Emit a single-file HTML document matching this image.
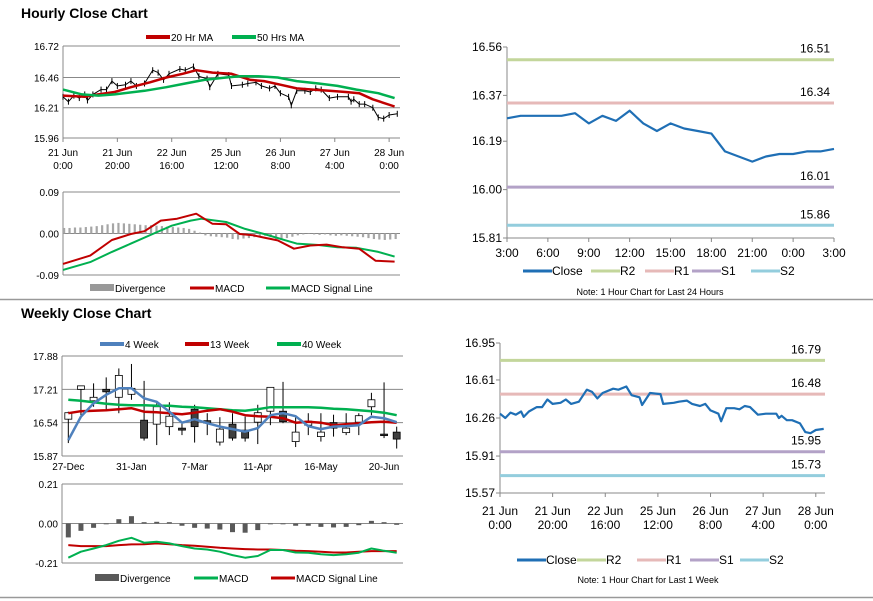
<!DOCTYPE html>
<html><head><meta charset="utf-8"><style>
html,body{margin:0;padding:0;background:#fff;}
svg{display:block;font-family:"Liberation Sans",Arial,sans-serif;}
</style></head><body>
<svg id="c" width="873" height="601" viewBox="0 0 873 601" xmlns="http://www.w3.org/2000/svg"></svg>
<script>
// ---------- DATA ----------
const weekHours = [0,2,4,6,8,9,11,14,16,18,20,23,25,27,30,33,35,37,39,43,45,48,50,53,54,57,61,62,66,68,71,73,76,78,80,83,84,86,89,91,93,95,98,101,105,106,107,109,111,114,116,118,120,123];
const weekClose = [16.30,16.26,16.31,16.29,16.32,16.27,16.32,16.36,16.36,16.43,16.39,16.40,16.43,16.39,16.41,16.52,16.50,16.44,16.49,16.53,16.52,16.55,16.47,16.45,16.38,16.49,16.48,16.39,16.40,16.41,16.42,16.39,16.37,16.39,16.33,16.30,16.23,16.35,16.35,16.34,16.37,16.36,16.29,16.30,16.30,16.26,16.28,16.24,16.24,16.21,16.13,16.12,16.15,16.16];
const ma20Hours = [0,8,13,19,25,32,38,44,49,55,62,69,74,80,86,92,98,104,109,114,122];
const ma20 = [16.31,16.30,16.32,16.34,16.38,16.42,16.46,16.49,16.52,16.50,16.49,16.44,16.43,16.40,16.37,16.36,16.35,16.34,16.33,16.28,16.22];
const ma50Hours = [0,7,13,19,30,38,45,52,60,65,72,79,86,94,101,108,116,122];
const ma50 = [16.36,16.32,16.31,16.32,16.35,16.38,16.41,16.44,16.46,16.47,16.47,16.46,16.43,16.41,16.39,16.36,16.33,16.29];
const hMacdHours = [0,10,18,25,30,36,42,49,55,60,65,70,74,79,85,91,97,103,109,115,122];
const hMacd = [-0.066,-0.048,-0.014,-0.001,0.005,0.028,0.032,0.043,0.021,0.020,-0.001,-0.004,-0.009,-0.015,-0.033,-0.026,-0.024,-0.030,-0.033,-0.059,-0.061];
const hSigHours = [0,10,18,25,33,40,47,51,60,67,74,82,86,94,101,108,116,122];
const hSig = [-0.079,-0.062,-0.040,-0.022,-0.001,0.017,0.028,0.032,0.025,0.010,-0.001,-0.015,-0.022,-0.025,-0.030,-0.031,-0.040,-0.050];
const hDiv = [0.012,0.012,0.013,0.013,0.014,0.015,0.016,0.018,0.020,0.022,0.023,0.022,0.021,0.020,0.019,0.018,0.018,0.017,0.016,0.015,0.014,0.013,0.012,0.010,0.006,0.002,-0.004,-0.006,-0.007,-0.008,-0.009,-0.012,-0.013,-0.011,-0.010,-0.008,-0.006,-0.005,-0.008,-0.012,-0.014,-0.010,-0.007,-0.004,-0.002,-0.001,-0.002,-0.003,-0.002,-0.004,-0.005,-0.004,-0.005,-0.006,-0.007,-0.008,-0.010,-0.012,-0.013,-0.014,-0.013,-0.012];
const hourTickLabels = [["21 Jun","0:00"],["21 Jun","20:00"],["22 Jun","16:00"],["25 Jun","12:00"],["26 Jun","8:00"],["27 Jun","4:00"],["28 Jun","0:00"]];
const hourTickHours = [0,20,40,60,80,100,120];
const hPriceTicks = [16.72,16.46,16.21,15.96];
const hMacdTicks = [0.09,0.00,-0.09];

const dayLabels = ["3:00","6:00","9:00","12:00","15:00","18:00","21:00","0:00","3:00"];
const dayClose = [16.28,16.29,16.29,16.29,16.29,16.30,16.26,16.29,16.27,16.31,16.26,16.23,16.26,16.24,16.23,16.22,16.15,16.13,16.11,16.13,16.14,16.14,16.15,16.15,16.16];
const dayTicks = [16.56,16.37,16.19,16.00,15.81];
const dayLevels = [16.51,16.34,16.01,15.86];
const wkLevels = [16.79,16.48,15.95,15.73];
const wkTicksR = [16.95,16.61,16.26,15.91,15.57];

const wOpen  = [16.61,17.21,16.98,17.21,17.05,17.11,16.59,16.51,16.46,16.43,16.81,16.58,16.15,16.51,16.39,16.55,16.77,16.77,16.16,16.49,16.26,16.54,16.34,16.55,16.86,16.31,16.35];
const wHigh  = [16.76,17.28,17.33,17.45,17.63,17.72,17.38,16.93,16.95,16.54,16.90,16.73,16.65,16.73,16.66,16.90,17.25,17.36,16.65,16.73,16.73,16.70,16.73,16.73,17.14,17.35,16.46];
const wLow   = [16.13,16.69,16.86,16.79,16.73,17.00,16.18,16.09,16.29,16.29,16.14,16.29,16.08,16.18,16.16,16.11,16.49,16.53,16.05,16.29,16.16,16.26,16.29,16.29,16.69,16.23,16.02];
const wClose = [16.74,17.28,17.05,17.16,17.49,17.23,16.23,16.86,16.67,16.39,16.46,16.53,16.41,16.23,16.23,16.74,17.25,16.56,16.35,16.57,16.35,16.43,16.43,16.68,17.00,16.29,16.21];
const w4  = [16.19,16.66,16.93,17.10,17.23,17.23,17.03,16.96,16.76,16.54,16.61,16.53,16.46,16.41,16.36,16.43,16.69,16.73,16.67,16.47,16.41,16.46,16.47,16.49,16.66,16.63,16.55];
const w13 = [16.73,16.77,16.78,16.79,16.81,16.83,16.76,16.75,16.73,16.71,16.74,16.78,16.81,16.76,16.69,16.67,16.66,16.63,16.54,16.56,16.54,16.49,16.51,16.53,16.55,16.56,16.54];
const w40 = [17.00,16.98,16.95,16.92,16.90,16.89,16.89,16.88,16.88,16.86,16.85,16.83,16.81,16.79,16.78,16.81,16.85,16.85,16.85,16.85,16.84,16.82,16.81,16.79,16.77,16.74,16.69];
const wDiv = [-0.074,-0.039,-0.023,-0.004,0.023,0.039,0.007,0.009,0.007,-0.012,-0.023,-0.027,-0.032,-0.046,-0.049,-0.035,-0.002,-0.002,-0.012,-0.012,-0.018,-0.021,-0.018,-0.009,0.014,0.007,-0.007];
const wMacd = [-0.182,-0.150,-0.133,-0.115,-0.092,-0.076,-0.102,-0.097,-0.106,-0.120,-0.133,-0.138,-0.150,-0.168,-0.182,-0.173,-0.141,-0.141,-0.154,-0.155,-0.163,-0.168,-0.163,-0.155,-0.133,-0.145,-0.155];
const wSig = [-0.115,-0.120,-0.120,-0.120,-0.115,-0.111,-0.110,-0.106,-0.110,-0.115,-0.118,-0.124,-0.129,-0.133,-0.136,-0.138,-0.138,-0.141,-0.145,-0.147,-0.150,-0.154,-0.154,-0.150,-0.147,-0.147,-0.147];
const wTickLabels = ["27-Dec","31-Jan","7-Mar","11-Apr","16-May","20-Jun"];
const wTickIdx = [0,5,10,15,20,25];
const wPriceTicks = [17.88,17.21,16.54,15.87];
const wMacdTicks = [0.21,0.00,-0.21];

// ---------- HELPERS ----------
const NS="http://www.w3.org/2000/svg";
const root=document.getElementById('c');
function mk(tag,attrs,parent){const e=document.createElementNS(NS,tag);for(const k in attrs)e.setAttribute(k,attrs[k]);(parent||root).appendChild(e);return e;}
function txt(s,x,y,size,anchor,weight,parent){const e=mk('text',{x:x,y:y,'font-size':size,'text-anchor':anchor||'start','font-weight':weight||'normal',fill:'#000'},parent);e.textContent=s;return e;}
function lin(d0,d1,r0,r1){return v=>r0+(v-d0)*(r1-r0)/(d1-d0);}
function poly(xs,ys,color,w,parent){return mk('polyline',{points:xs.map((x,i)=>x.toFixed(1)+','+ys[i].toFixed(1)).join(' '),fill:'none',stroke:color,'stroke-width':w,'stroke-linejoin':'round'},parent);}
function group(){return mk('g',{});}

const RED="#c00000",GREEN="#00b050",BLUE="#4f81bd",DBLUE="#1f6fb5";
const LR2="#c3d69b",LR1="#e6b9b8",LS1="#b3a2c7",LS2="#93cddd";

let s1=mk('line',{x1:0,y1:299.5,x2:873,y2:299.5,stroke:'#999','stroke-width':1.5});


let s2=mk('line',{x1:0,y1:597.5,x2:873,y2:597.5,stroke:'#999','stroke-width':1.5});


let t1=txt('Hourly Close Chart',21,18,14,'start','bold');


let t2=txt('Weekly Close Chart',21,318,14,'start','bold');



function gridPanel(g,ticks,ys,x0,x1,labels){
  ticks.forEach((t,i)=>{
    const y=ys(t);
    const gl=mk('line',{x1:x0,y1:y,x2:x1,y2:y,stroke:'#888','stroke-width':1},g);
    
    
    const tl=txt(labels?labels[i]:t.toFixed(2),x0-4,y+4,10,'end','normal',g);
    
    
  });
  const ax=mk('line',{x1:x0,y1:ys(ticks[0]),x2:x0,y2:ys(ticks[ticks.length-1]),stroke:'#888','stroke-width':1},g);
  
  
}
function legendLine(g,x,y,color,label,w,box){
  let sw;
  if(box){sw=mk('rect',{x:x,y:y-4,width:24,height:7,fill:color},g);}
  else{sw=mk('line',{x1:x,y1:y,x2:x+24,y2:y,stroke:color,'stroke-width':w||4},g);}
  
  
  const t=txt(label,x+25,y+4,10,'start','normal',g);
  
  
}

// ---------- PANEL 1: hourly price ----------
{
const g=group();


const x0=63,x1=400; const xs=lin(0,124,x0,x1); const ys=lin(16.72,15.96,46,138);
gridPanel(g,hPriceTicks,ys,x0,x1);
const bx=mk('line',{x1:x0,y1:138,x2:x1,y2:138,stroke:'#888'},g);


hourTickHours.forEach((h,i)=>{
  const x=xs(h);
  const tk=mk('line',{x1:x,y1:138,x2:x,y2:142,stroke:'#888'},g);
  
  
  const a=txt(hourTickLabels[i][0],x,156,10,'middle','normal',g);
  
  
  const b=txt(hourTickLabels[i][1],x,169,10,'middle','normal',g);
  
  
});
const cl=poly(weekHours.map(xs),weekClose.map(ys),'#000',1,g);


weekHours.forEach((h,i)=>{
  const tk=mk('line',{x1:xs(h),y1:ys(weekClose[i])-3,x2:xs(h),y2:ys(weekClose[i])+3,stroke:'#000','stroke-width':1},g);
  
  
});
const l20=poly(ma20Hours.map(xs),ma20.map(ys),RED,2.5,g);


const l50=poly(ma50Hours.map(xs),ma50.map(ys),GREEN,2.5,g);


legendLine(g,146,37,RED,'20 Hr MA');
legendLine(g,232,37,GREEN,'50 Hrs MA');
}
// ---------- PANEL 1b: hourly MACD ----------
{
const g=group();


const x0=63,x1=400; const xs=lin(0,124,x0,x1); const ys=lin(0.09,-0.09,192,275);
gridPanel(g,hMacdTicks,ys,x0,x1);
hDiv.forEach((v,i)=>{
  const x=xs(i*2); const y0=ys(0),y=ys(v);
  const b=mk('rect',{x:x,y:Math.min(y0,y),width:2.2,height:Math.abs(y-y0),fill:'#a6a6a6'},g);
  
  
});
const sg=poly(hSigHours.map(xs),hSig.map(ys),GREEN,2,g);


const mc=poly(hMacdHours.map(xs),hMacd.map(ys),RED,2,g);


legendLine(g,90,288,'#999','Divergence',0,true);
legendLine(g,190,288,RED,'MACD',3);
legendLine(g,266,288,GREEN,'MACD Signal Line',3);
}
// ---------- right-side level chart ----------
function levelChart(name,x0,x1,yTop,yBot,ticks,levels,xsFn,xVals,yVals,lblFn,legendY,noteY,note){
  const g=group();
  
  
  const ys=lin(ticks[0],ticks[ticks.length-1],yTop,yBot);
  const ax=mk('line',{x1:x0,y1:yTop,x2:x0,y2:yBot,stroke:'#888'},g);
  
  
  const bx=mk('line',{x1:x0,y1:yBot,x2:x1,y2:yBot,stroke:'#888'},g);
  
  
  ticks.forEach(t=>{
    const y=ys(t);
    const tk=mk('line',{x1:x0-4,y1:y,x2:x0,y2:y,stroke:'#888'},g);
    
    
    const tl=txt(t.toFixed(2),x0-5,y+4,12,'end','normal',g);
    
    
  });
  const cols=[LR2,LR1,LS1,LS2];
  levels.forEach((v,i)=>{
    const y=ys(v);
    const l=mk('line',{x1:x0,y1:y,x2:x1,y2:y,stroke:cols[i],'stroke-width':3},g);
    
    
    const t=txt(v.toFixed(2),x1-4,y-7,12,'end','normal',g);
    
    
  });
  lblFn(g,ys);
  const cl=poly(xVals.map(xsFn),yVals.map(ys),DBLUE,2.2,g);
  
  
  const names=['Close','R2','R1','S1','S2']; const lc=[DBLUE,LR2,LR1,LS1,LS2];
  const lx=legendY[1];
  names.forEach((n,i)=>{
    const x=lx[i];
    const sw=mk('line',{x1:x,y1:legendY[0],x2:x+29,y2:legendY[0],stroke:lc[i],'stroke-width':3},g);
    
    
    const t=txt(n,x+29,legendY[0]+4,12,'start','normal',g);
    
    
  });
  const nt=txt(note,noteY[0],noteY[1],9,'middle','normal',g);
  
  
}
levelChart('daily-level-chart',507,834,47,238,dayTicks,dayLevels,lin(0,24,507,834),dayClose.map((v,i)=>i),dayClose,(g,ys)=>{
  const xs=lin(0,24,507,834);
  dayLabels.forEach((l,i)=>{
    const x=xs(i*3);
    const tk=mk('line',{x1:x,y1:238,x2:x,y2:242,stroke:'#888'},g);
    
    
    const t=txt(l,x,257,12,'middle','normal',g);
    
    
  });
},[271,[523,591,645,692,751]],[650,295],'Note: 1 Hour Chart for Last 24 Hours');
levelChart('weekly-level-chart',500,825,343,493,wkTicksR,wkLevels,lin(0,123.5,500,825),weekHours,weekClose,(g,ys)=>{
  const xs=lin(0,123.5,500,825);
  hourTickHours.forEach((h,i)=>{
    const x=xs(h);
    const tk=mk('line',{x1:x,y1:493,x2:x,y2:497,stroke:'#888'},g);
    
    
    const a=txt(hourTickLabels[i][0],x,515,12,'middle','normal',g);
    
    
    const b=txt(hourTickLabels[i][1],x,529,12,'middle','normal',g);
    
    
  });
},[560,[517,577,637,690,740]],[648,583],'Note: 1 Hour Chart for Last 1 Week');

// ---------- PANEL 3: weekly candles ----------
{
const g=group();


const x0=62,x1=403; const n=wOpen.length; const bw=(x1-x0)/n;
const xc=i=>x0+bw*(i+0.5); const ys=lin(17.88,15.87,356,456);
gridPanel(g,wPriceTicks,ys,x0,x1);
const bx=mk('line',{x1:x0,y1:456,x2:x1,y2:456,stroke:'#888'},g);


wTickIdx.forEach((ix,i)=>{
  const t=txt(wTickLabels[i],xc(ix),470,10,'middle','normal',g);
  
  
});
wOpen.forEach((o,i)=>{
  const x=xc(i);
  const wk=mk('line',{x1:x,y1:ys(wHigh[i]),x2:x,y2:ys(wLow[i]),stroke:'#000','stroke-width':1},g);
  
  
  const c=wClose[i]; const up=c>=o;
  const top=ys(Math.max(o,c)),bot=ys(Math.min(o,c));
  const b=mk('rect',{x:x-3.5,y:top,width:7,height:Math.max(bot-top,1.5),fill:up?'#fff':'#404040',stroke:'#000','stroke-width':0.8},g);
  
  
});
const l40=poly(wOpen.map((v,i)=>xc(i)),w40.map(ys),GREEN,2.5,g);


const l13=poly(wOpen.map((v,i)=>xc(i)),w13.map(ys),RED,2.5,g);


const l4=poly(wOpen.map((v,i)=>xc(i)),w4.map(ys),BLUE,2.5,g);


legendLine(g,100,344,BLUE,'4 Week');
legendLine(g,185,344,RED,'13 Week');
legendLine(g,277,344,GREEN,'40 Week');
}
// ---------- PANEL 3b: weekly MACD ----------
{
const g=group();


const x0=62,x1=403; const n=wDiv.length; const bw=(x1-x0)/n;
const xc=i=>x0+bw*(i+0.5); const ys=lin(0.21,-0.21,484,563);
gridPanel(g,wMacdTicks,ys,x0,x1);
wDiv.forEach((v,i)=>{
  const y0=ys(0),y=ys(v);
  const b=mk('rect',{x:xc(i)-2.5,y:Math.min(y0,y),width:5,height:Math.max(Math.abs(y-y0),0.8),fill:'#595959'},g);
  
  
});
const sg=poly(wSig.map((v,i)=>xc(i)),wSig.map(ys),RED,2,g);


const mc=poly(wMacd.map((v,i)=>xc(i)),wMacd.map(ys),GREEN,2,g);


legendLine(g,95,578,'#595959','Divergence',0,true);
legendLine(g,194,578,GREEN,'MACD',3);
legendLine(g,271,578,RED,'MACD Signal Line',3);
}
</script>
</body></html>
